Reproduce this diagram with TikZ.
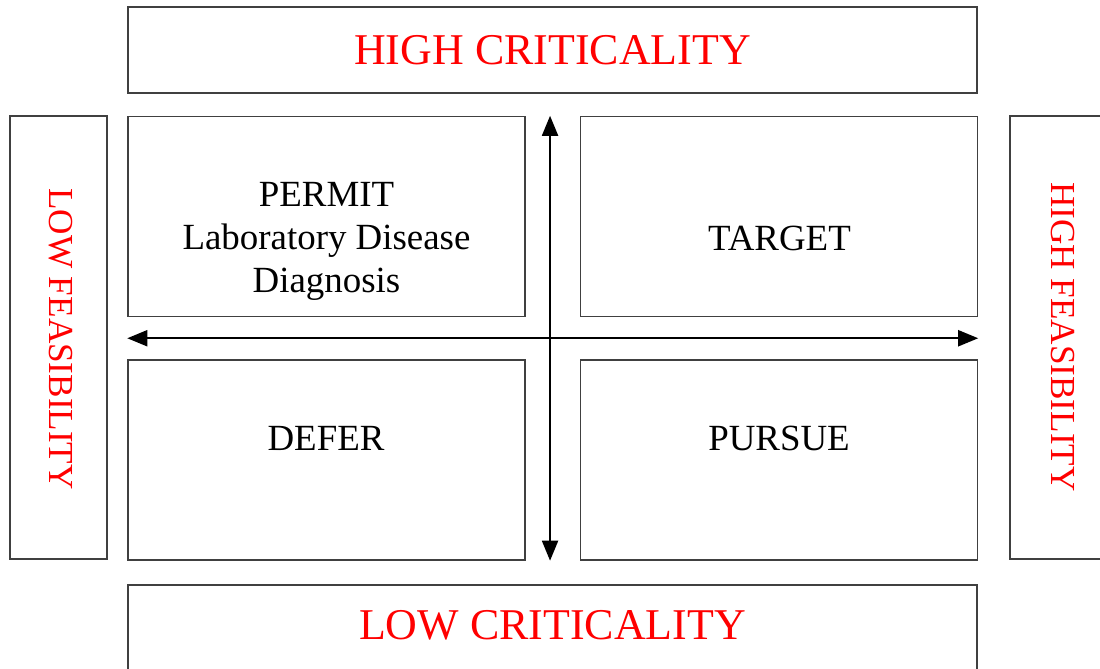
\documentclass[tikz,border=0pt]{standalone}
\usepackage{fontspec}
\setmainfont{Liberation Serif}
\usetikzlibrary{arrows.meta,calc}

\tikzset{
    feld/.style={draw=black!75, line width=.8pt, minimum width=7.94cm, minimum height=4.0cm},
    balken/.style={draw=black!75, line width=.8pt, minimum width=16.98cm, minimum height=1.72cm},
    seite/.style={draw=black!75, line width=.8pt, minimum width=1.94cm, minimum height=8.86cm},
    rot/.style={text=red, font=\fontsize{25}{30}\selectfont},
    rotseite/.style={text=red, font=\fontsize{20}{24}\selectfont, rotate=-90},
    schwarz/.style={align=center, font=\fontsize{21}{24.5}\selectfont},
    pfeil/.style={line width=1.1pt, {Triangle[length=.4cm,width=.32cm]}-{Triangle[length=.4cm,width=.32cm]}}
}

\begin{document}
\begin{tikzpicture}
        \useasboundingbox (0,0) rectangle (22,13.36);

        % Balken oben und unten
        \node[balken] (oben) at (11.05,12.36) {};
        \node[balken] (unten) at (11.05,.80) {};
        \node[rot] (hc) at (oben.center) {HIGH CRITICALITY};
        \node[rot] (lc) at (11.05,.86) {LOW CRITICALITY};

        % Seiten
        \node[seite] (links) at (1.17,6.61) {};
        \node[seite] (rechts) at (21.17,6.61) {};
        \node[rotseite] (lf) at (1.22,6.58) {LOW FEASIBILITY};
        \node[rotseite] (hf) at (21.26,6.62) {HIGH FEASIBILITY};

        % Felder
        \node[feld] (tl) at (6.53,9.03) {};
        \node[feld] (tr) at (15.58,9.03) {};
        \node[feld] (bl) at (6.53,4.16) {};
        \node[feld] (br) at (15.58,4.16) {};

        \node[schwarz] (permit) at (6.53,8.54) {PERMIT\\Laboratory Disease\\Diagnosis};
        \node[schwarz] (target) at (15.59,8.60) {TARGET};
        \node[schwarz] (defer) at (6.52,4.60) {DEFER};
        \node[schwarz] (pursue) at (15.58,4.60) {PURSUE};

        % Achsen
        \coordinate (nord) at ($(tl.north east)!.45!(tr.north west)$);
        \coordinate (sued) at ($(bl.south east)!.45!(br.south west)$);
        \coordinate (west) at ($(tl.south west)!.5!(bl.north west)$);
        \coordinate (ost) at ($(tr.south east)!.5!(br.north east)$);
        \draw[pfeil] (nord) -- (sued);
        \draw[pfeil] (west) -- (ost);
    \end{tikzpicture}
\end{document}
